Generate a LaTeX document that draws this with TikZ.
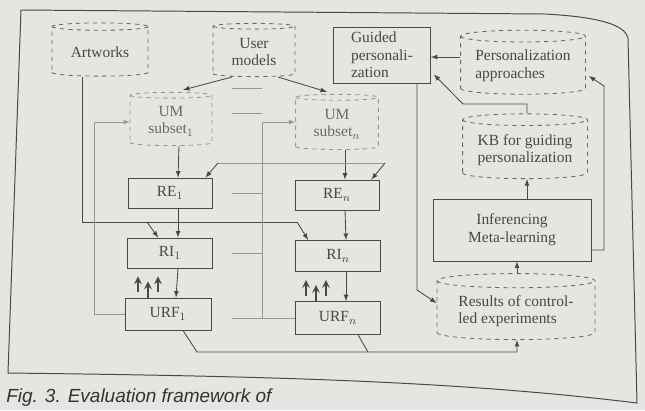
\documentclass[tikz,border=0pt]{standalone}
\usepackage{fontspec}
\setmainfont{Liberation Serif}
\newfontfamily\capfont{Liberation Sans}
\usetikzlibrary{shapes.geometric,calc}
\definecolor{paper}{RGB}{229,229,226}
\definecolor{ink}{RGB}{72,72,72}
\definecolor{dbink}{RGB}{105,105,105}
\definecolor{faint}{RGB}{150,150,150}

\begin{document}
\begin{tikzpicture}[x=0.025cm,y=-0.025cm,
    font=\fontsize{11}{12.5}\selectfont,
    line/.style={ink, line width=0.6pt},
    arr/.style={line, ->, >=latex},
    thin arr/.style={faint, line width=0.5pt, ->, >=latex},
    box/.style={draw=ink, line width=0.6pt, text=ink, inner sep=2pt},
    db/.style={cylinder, shape border rotate=90, aspect=0.12, draw=dbink, dashed,
        line width=0.6pt, text=ink, inner sep=1pt},
    sub/.style={db, draw=faint, text=faint!70!black},
    gap/.style={faint, line width=0.7pt}]
    \fill[paper] (0,0) rectangle (645,410);
    \useasboundingbox (0,0) rectangle (645,410);

    % frame of the figure
    \draw[ink, line width=0.7pt] (21,10) -- (545,14) .. controls (600,17) and (625,25) .. (628,38)
        -- (637,403) .. controls (450,380) and (250,376) .. (8,373) -- cycle;

    % data stores
    \node[db, minimum width=2.4cm, minimum height=1.33cm] (art) at (100,52) {Artworks};
    \node[db, minimum width=2.05cm, minimum height=1.33cm, align=center] (um) at (254,52) {User\\models};
    \node[db, minimum width=3.12cm, minimum height=1.6cm, align=left] (appr) at (523,66) {Personalization\\approaches};
    \node[sub, minimum width=2.05cm, minimum height=1.33cm, align=center] (sub1) at (171,121) {UM\\subset$_1$};
    \node[sub, minimum width=2.07cm, minimum height=1.38cm, align=center] (subn) at (337,124) {UM\\subset$_n$};
    \node[db, minimum width=3.12cm, minimum height=1.62cm, align=left] (kb) at (525,150) {KB for guiding\\personalization};
    \node[db, minimum width=3.95cm, minimum height=1.65cm, align=left] (res) at (516,311) {Results of control-\\led experiments};

    % processing steps
    \node[box, minimum width=2.42cm, minimum height=1.4cm, align=left] (guided) at (382,55) {Guided\\personali-\\zation};
    \node[box, minimum width=2.1cm, minimum height=0.75cm] (re1) at (170,193) {RE$_1$};
    \node[box, minimum width=2.1cm, minimum height=0.75cm] (ren) at (337,195) {RE$_n$};
    \node[box, minimum width=2.12cm, minimum height=0.75cm] (ri1) at (170,253) {RI$_1$};
    \node[box, minimum width=2.12cm, minimum height=0.78cm] (rin) at (338,256) {RI$_n$};
    \node[box, minimum width=2.15cm, minimum height=0.8cm] (urf1) at (168,314) {URF$_1$};
    \node[box, minimum width=2.13cm, minimum height=0.82cm] (urfn) at (338,318) {URF$_n$};
    \node[box, minimum width=3.95cm, minimum height=1.55cm, align=center] (inf) at (512,230) {Inferencing\\Meta-learning};

    % ellipsis between the two columns
    \foreach \y in {88,113,193,253,318}
        \draw[gap] (232,\y) -- (262,\y);

    % free ends of connectors
    \coordinate (a1) at (82,222);
    \coordinate (a2) at (147,222);
    \coordinate (a3) at (297,222);
    \coordinate (r1) at (218,163);
    \coordinate (r2) at (385,163);
    \coordinate (f1) at (94,122);
    \coordinate (fn) at (262,122);
    \coordinate (b1) at (197,352);
    \coordinate (b2) at (517,352);
    \coordinate (b3) at (368,352);
    \coordinate (k1) at (527,104);
    \coordinate (k2) at (463,104);
    \coordinate (p1) at (460,57);
    \coordinate (q1) at (604,250);
    \coordinate (q2) at (604,86);
    \coordinate (g1) at (417,290);

    % user models into the subsets
    \draw[arr] ($(um.south)+(-22,0)$) -- ($(sub1.north)+(12,-2)$);
    \draw[arr] ($(um.south)+(24,0)$) -- ($(subn.north)+(-10,-2)$);

    % down each column
    \foreach \a/\b in {sub1/re1, re1/ri1, ri1/urf1, subn/ren, ren/rin, rin/urfn}
        \draw[arr] ($(\a.south)+(8,0)$) -- ($(\b.north)+(8,0)$);

    % artworks into RI
    \draw[line] (art.south -| a1) -- (a1) -- (a3);
    \draw[arr] (a2) -- ($(ri1.north west)+(31,0)$);
    \draw[arr] (a3) -- ($(rin.north west)+(13,0)$);

    % into RE
    \draw[faint, line width=0.5pt] (r1) -- (r2);
    \draw[arr] (r1) -- ($(re1.north east)+(-7,0)$);
    \draw[arr] (r2) -- ($(ren.north east)+(-8,0)$);

    % feedback to the subsets
    \draw[thin arr] (urf1.west) -| (f1) -- (sub1.west |- f1);
    \draw[thin arr] (urfn.west) -| (fn) -- (subn.west |- fn);

    % user interaction between RI and URF
    \foreach \c/\s in {ri1/1, rin/n} {
        \draw[arr, line width=1.4pt, >=stealth] ($(\c.south)+(-32,24)$) -- ($(\c.south)+(-32,8)$);
        \draw[arr, line width=1.4pt, >=stealth] ($(\c.south)+(-22,30)$) -- ($(\c.south)+(-22,13)$);
        \draw[arr, line width=1.4pt, >=stealth] ($(\c.south)+(-12,24)$) -- ($(\c.south)+(-12,8)$);
    }

    % URF into the results
    \draw[arr] ($(urf1.south)+(15,0)$) -- (b1) -- (b2) -- (res.south -| b2);
    \draw[line] ($(urfn.south)+(20,0)$) -- (b3);

    % right-hand loop
    \draw[arr] (res.north -| b2) -- (inf.south -| b2);
    \draw[arr] (inf.north -| k1) -- (kb.south -| k1);
    \draw[arr] (kb.north -| k1) -- (k1) -- (k2) -- ($(guided.south east)+(3,-9)$);
    \draw[arr] (appr.west |- p1) -- (guided.east |- p1);
    \draw[arr] (inf.east |- q1) -- (q1) -- (q2) -- ($(appr.east)+(3,10)$);
    \draw[arr] (guided.south -| g1) -- (g1) -- ($(res.west)+(0,-8)$);

    % caption
    \node[anchor=base west, font=\capfont\itshape\fontsize{13.5}{15}\selectfont, text=black!80, inner sep=0pt] (cap) at (6,402) {Fig. 3. Evaluation framework of};
\end{tikzpicture}
\end{document}
